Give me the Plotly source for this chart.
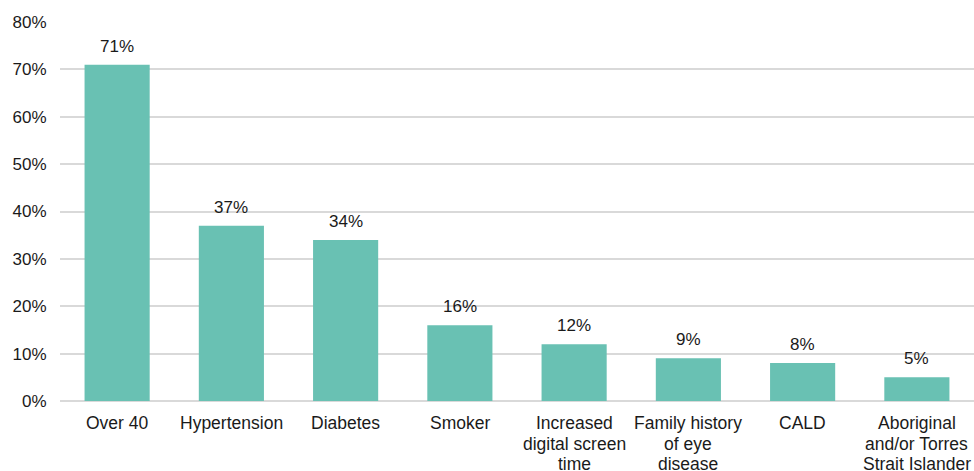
import plotly.graph_objects as go

categories = ["Over 40", "Hypertension", "Diabetes", "Smoker",
              "Increased digital screen time", "Family history of eye disease",
              "CALD", "Aboriginal and/or Torres Strait Islander"]
category_lines = [["Over 40"], ["Hypertension"], ["Diabetes"], ["Smoker"],
                  ["Increased", "digital screen", "time"],
                  ["Family history", "of eye", "disease"],
                  ["CALD"],
                  ["Aboriginal", "and/or Torres", "Strait Islander"]]
values = [71, 37, 34, 16, 12, 9, 8, 5]
labels = [f"{v}%" for v in values]
tick_vals = [0, 10, 20, 30, 40, 50, 60, 70, 80]
tick_text = [f"{v}%" for v in tick_vals]

font_family = "Liberation Sans, Arial, sans-serif"
text_color = "#1a1a1a"

fig = go.Figure()
fig.add_trace(go.Bar(x=categories, y=values, marker_color="#69C1B3",
                     marker_line_width=0, hoverinfo="skip"))

# value labels above bars
for c, v, t in zip(categories, values, labels):
    fig.add_annotation(x=c, y=v, text=t, showarrow=False, yanchor="bottom",
                       yshift=7, font=dict(size=17, color=text_color, family=font_family))

# category labels, one annotation per line for tight (Excel-like) line spacing
for c, lines in zip(categories, category_lines):
    for i, line in enumerate(lines):
        fig.add_annotation(x=c, y=0, text=line, showarrow=False, yanchor="middle",
                           yshift=-22 - 20.5 * i,
                           font=dict(size=17.5, color=text_color, family=font_family))

fig.update_layout(
    width=974, height=471,
    margin=dict(l=60, r=0, t=22, b=70),
    paper_bgcolor="white", plot_bgcolor="white",
    bargap=0.43,
    showlegend=False,
    font=dict(family=font_family, size=17, color=text_color),
)
fig.update_yaxes(range=[0, 80], tickvals=tick_vals, ticktext=tick_text,
                 showgrid=True, gridcolor="#d9d9d9", gridwidth=1.5,
                 zeroline=True, zerolinecolor="#d9d9d9", zerolinewidth=1.5,
                 ticks="outside", ticklen=9, tickcolor="rgba(0,0,0,0)",
                 tickfont=dict(size=17), fixedrange=True, automargin=False)
fig.update_xaxes(showticklabels=False, fixedrange=True, automargin=False)

fig.write_html("out.html", config={"displayModeBar": False})
